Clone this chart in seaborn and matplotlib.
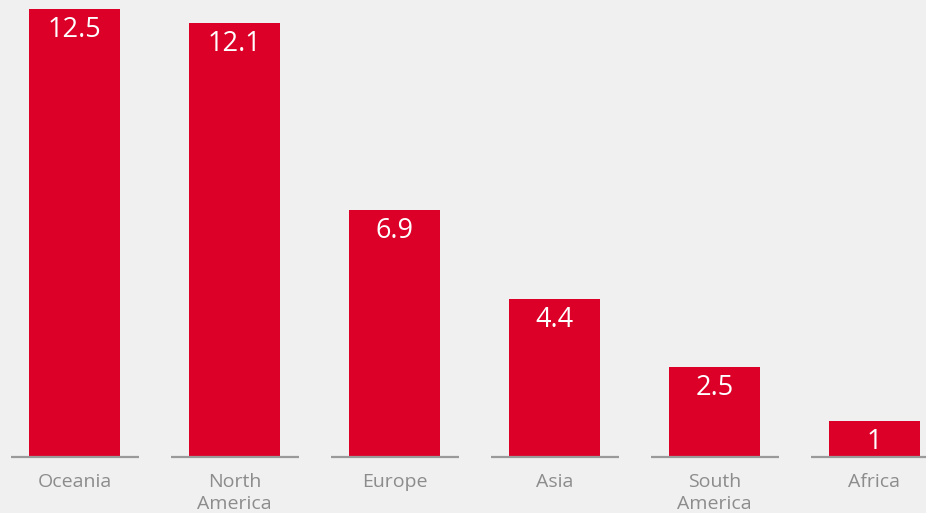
import numpy as np
import pandas as pd
import matplotlib
matplotlib.use("Agg")
import matplotlib.pyplot as plt
import seaborn as sns

# Chart data
regions = ["Oceania", "North\nAmerica", "Europe", "Asia", "South\nAmerica", "Africa"]
values = [12.5, 12.1, 6.9, 4.4, 2.5, 1]
value_labels = ["12.5", "12.1", "6.9", "4.4", "2.5", "1"]

BG = "#f0f0f0"
RED = "#dc0029"
GREY = "#8c8c8c"

sns.set_theme(style="white")
plt.rcParams["font.family"] = ["Open Sans", "DejaVu Sans"]

df = pd.DataFrame({"region": regions, "value": values})

fig = plt.figure(figsize=(9.26, 5.13), dpi=100)
fig.patch.set_facecolor(BG)
ax = fig.add_axes([0, 56 / 513, 1, 457 / 513])
ax.set_facecolor(BG)

sns.barplot(data=df, x="region", y="value", color=RED, width=91 / 160,
            saturation=1, linewidth=0, ax=ax)

# segmented baseline under each category
xs = np.arange(len(regions))
ax.hlines(np.zeros(len(xs)), xs - 0.4, xs + 0.4, color="#9a9a9a", lw=1.6,
          clip_on=False, zorder=3)

# value labels inside bars
for x, v, lab in zip(xs, values, value_labels):
    ax.annotate(lab, (x, v), xytext=(0, -21), textcoords="offset pixels",
                ha="center", va="center", color="white", fontsize=19.5,
                fontweight="medium")

# category labels
for x, name in zip(xs, regions):
    ax.annotate(name, (x, 0), xytext=(0, -16), textcoords="offset pixels",
                ha="center", va="top", color=GREY, fontsize=14,
                linespacing=1.3, annotation_clip=False)

ax.set_xlim(-74.5 / 160, (926 - 74.5) / 160)
ax.set_ylim(0, 457 / 35.84)
ax.set_xticks([])
ax.set_yticks([])
ax.set_xlabel("")
ax.set_ylabel("")
sns.despine(ax=ax, left=True, bottom=True)

fig.savefig("out.png", dpi=100, facecolor=BG)
